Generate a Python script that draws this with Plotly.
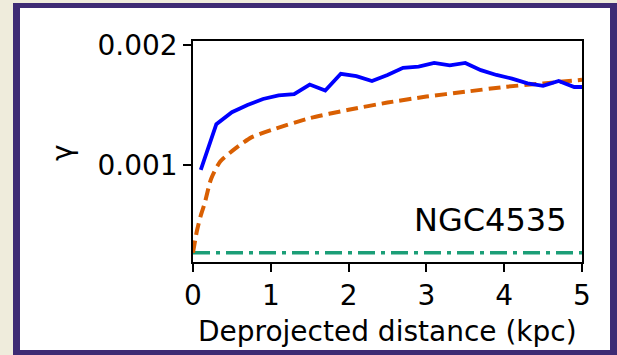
import plotly.graph_objects as go

# Measured gamma profile along the deprojected radius
dist_kpc = [0.1, 0.3, 0.5, 0.7, 0.9, 1.1, 1.3, 1.5, 1.7, 1.9, 2.1, 2.3, 2.5,
            2.7, 2.9, 3.1, 3.3, 3.5, 3.7, 3.9, 4.1, 4.3, 4.5, 4.7, 4.9, 5.1]
gamma_obs = [0.00096, 0.00134, 0.00144, 0.00150, 0.00155, 0.00158, 0.00159,
             0.00167, 0.00162, 0.00176, 0.00174, 0.00170, 0.00175, 0.00181,
             0.00182, 0.00185, 0.00183, 0.00185, 0.00179, 0.00175, 0.00172,
             0.00168, 0.00166, 0.00170, 0.00165, 0.00165]

# Model curve
model_kpc = [0.0, 0.05, 0.1, 0.15, 0.23, 0.35, 0.55, 0.75, 1.0, 1.5, 2.0,
             2.5, 3.0, 3.5, 4.0, 4.5, 5.0]
gamma_model = [0.00027, 0.00045, 0.00058, 0.00068, 0.00088, 0.00103, 0.00114,
               0.00123, 0.00129, 0.00139, 0.00146, 0.00152, 0.00157, 0.00161,
               0.00165, 0.00168, 0.00171]

# Constant reference level
const_kpc = [0.0, 5.0]
gamma_const = [0.00027, 0.00027]

galaxy = "NGC4535"
x_ticks = [0, 1, 2, 3, 4, 5]
y_ticks = [0.001, 0.002]
y_tick_text = ["0.001", "0.002"]

W, H = 617, 355
L, R, T, B = 193, 582, 41, 262  # plot-area edges in pixels


def px_x(p):
    return (p - L) / (R - L)


def px_y(p):
    return (B - p) / (B - T)


fig = go.Figure()
fig.add_trace(go.Scatter(x=const_kpc, y=gamma_const, mode="lines",
                         line=dict(color="#1b9e77", width=3.5,
                                   dash="17px,6px,4px,6px"),
                         showlegend=False))
fig.add_trace(go.Scatter(x=model_kpc, y=gamma_model, mode="lines",
                         line=dict(color="#d95f02", width=4,
                                   dash="12px,6px", shape="spline",
                                   smoothing=0.6),
                         showlegend=False))
fig.add_trace(go.Scatter(x=dist_kpc, y=gamma_obs, mode="lines",
                         line=dict(color="#0000ff", width=3.8),
                         showlegend=False))

font = "DejaVu Sans, Liberation Sans, sans-serif"

# Framed panel: purple border around a white card on a cream page
shapes = [
    dict(type="rect", xref="paper", yref="paper", layer="below",
         x0=px_x(13), x1=px_x(640), y0=px_y(3), y1=px_y(370),
         fillcolor="#3e2b74", line=dict(width=0)),
    dict(type="rect", xref="paper", yref="paper", layer="below",
         x0=px_x(20), x1=px_x(610), y0=px_y(8), y1=px_y(350),
         fillcolor="white", line=dict(width=0)),
]

annotations = [
    dict(text=galaxy, x=4.83, y=0.00054, xref="x", yref="y",
         xanchor="right", yanchor="middle", showarrow=False,
         font=dict(family=font, size=32, color="black")),
    dict(text="γ", x=px_x(62), y=px_y(153), xref="paper", yref="paper",
         xanchor="center", yanchor="middle", textangle=-90, showarrow=False,
         font=dict(family=font, size=28, color="black")),
    dict(text="Deprojected distance (kpc)", x=0.5, y=px_y(331),
         xref="paper", yref="paper", xanchor="center", yanchor="middle",
         showarrow=False, font=dict(family=font, size=28, color="black")),
]

fig.update_layout(
    width=W, height=H,
    margin=dict(l=L, r=W - R, t=T, b=H - B, pad=0),
    paper_bgcolor="#efecdc",
    plot_bgcolor="white",
    shapes=shapes,
    annotations=annotations,
    showlegend=False,
)

fig.update_xaxes(range=[0, 5], tickvals=x_ticks, ticks="outside", ticklen=8,
                 tickwidth=1.5, tickcolor="black", showline=True,
                 linecolor="black", linewidth=1.5, mirror=True,
                 showgrid=False, zeroline=False,
                 tickfont=dict(family=font, size=28, color="black"))
fig.update_yaxes(range=[0.000192, 0.002033], tickvals=y_ticks,
                 ticktext=y_tick_text, ticks="outside", ticklen=8,
                 tickwidth=1.5, tickcolor="black", showline=True,
                 linecolor="black", linewidth=1.5, mirror=True,
                 showgrid=False, zeroline=False,
                 tickfont=dict(family=font, size=28, color="black"))

fig.write_html("out.html")
